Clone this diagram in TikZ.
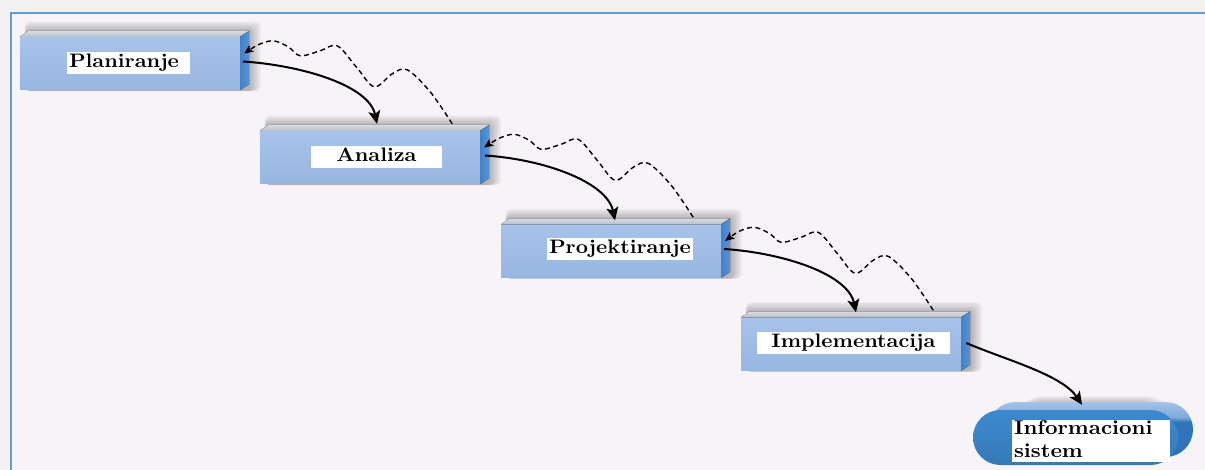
\documentclass[tikz,border=0pt]{standalone}
\usepackage{fontspec}
\setmainfont{Latin Modern Roman}
\newfontfamily\labelfont{lmroman10-bold.otf}[FakeStretch=1.09]
\usetikzlibrary{arrows.meta,calc,backgrounds,shapes.misc}

\definecolor{pagebg}{HTML}{F1F1F2}
\definecolor{panelbg}{HTML}{F7F4F7}
\definecolor{framebl}{HTML}{5F9CD6}
\definecolor{frontbl}{HTML}{97B6E1}
\definecolor{frontlt}{HTML}{A7C3EA}
\definecolor{sidebl}{HTML}{4381CA}
\definecolor{sidelt}{HTML}{5893D5}
\definecolor{topgray}{HTML}{B9BFCA}
\definecolor{toplt}{HTML}{DADCE2}
\definecolor{sysbl}{HTML}{3D8AD0}
\definecolor{sysdark}{HTML}{2F74BA}
\definecolor{systop}{HTML}{A3C3E8}
\definecolor{sysmid}{HTML}{7FA9DA}

% back of the rounded slab: light top rim, dark body
\pgfdeclareverticalshading{slabshade}{100bp}{color(0bp)=(sysdark); color(57bp)=(sysdark);
  color(61bp)=(sysmid); color(75bp)=(systop); color(100bp)=(systop)}

\tikzset{
  x=1pt, y=-1pt,
  front/.style={rectangle, minimum width=220pt, minimum height=53pt, inner sep=0pt,
    top color=frontlt, bottom color=frontbl, draw=none},
  lbl/.style={fill=white, inner ysep=2.5pt, inner xsep=2pt,
    font={\labelfont\fontsize{19.5}{23}\selectfont},
    text height=13pt, text depth=4pt},
  flow/.style={line width=2pt, -{Stealth[length=13pt,width=12pt,inset=3pt]}},
  feedback/.style={line width=1.4pt, dash pattern=on 5pt off 3.5pt,
    -{Stealth[length=9pt,width=8pt,inset=2pt]}},
  sysshape/.style={rounded rectangle, minimum width=205pt, minimum height=55pt,
    inner sep=0pt, draw=none},
}

% dashed wavy return path from the top of one stage back to the previous one
\newcommand\backwave[2]{%
  \begin{scope}[shift={(#1.north east)}]
    \draw[feedback] plot[smooth, tension=0.55] coordinates {
      (-28,-7) (-50,-39) (-73,-61) (-88,-57) (-106,-44) (-124,-64)
      (-143,-85) (-160,-80) (-180,-75) (-192,-84) (-207,-90) (-222,-86)
      ($(#2.east)+(4,-10)$)};
  \end{scope}}

\begin{document}
\begin{tikzpicture}
\useasboundingbox (0,0) rectangle (1205,470);

% stage blocks (front faces)
\node[front] (pl) at (130,63.5) {};
\node[front] (an) at (370,157.5) {};
\node[front] (pr) at (611,251) {};
\node[front] (im) at (851,344) {};

% top and side faces of each block
\foreach \n in {pl,an,pr,im}{
  \fill[top color=toplt, bottom color=topgray]
    (\n.north west) -- ++(9,-6) -- ($(\n.north east)+(9,-6)$) -- (\n.north east) -- cycle;
  \fill[left color=sidebl, right color=sidelt]
    (\n.north east) -- ++(9,-6) -- ($(\n.south east)+(9,-6)$) -- (\n.south east) -- cycle;
}

% final product: rounded slab
\coordinate (isc) at (1075.5,437.5);
\node[sysshape, shading=slabshade] (isback) at ($(isc)+(15,-8)$) {};
\node[sysshape, top color=sysbl, bottom color=sysbl!88!black] (is) at (isc) {};

% labels
\node[lbl, text width=119pt, align=left] (plt) at (128.5,63) {Planiranje};
\node[lbl, text width=127pt, align=center] (ant) at (376.5,157.5) {Analiza};
\node[lbl, text width=142pt, align=left] (prt) at (620,249) {Projektiranje};
\node[lbl, text width=189pt, align=center] (imt) at (853.5,343) {Implementacija};
\node[lbl, text width=154pt, align=left, font={\labelfont\fontsize{20}{23}\selectfont},
  text height=14pt, text depth=26pt, inner ysep=1pt] (ist) at (1091,440.5) {Informacioni\\sistem};

% forward flow
\draw[flow] ($(pl.east)+(3,-2)$) .. controls +(60,4) and +(-8,-38) .. ($(an.north)+(7,-7)$);
\draw[flow] ($(an.east)+(5,-2)$) .. controls +(60,4) and +(-8,-38) .. ($(pr.north)+(4,-4)$);
\draw[flow] ($(pr.east)+(3,-2)$) .. controls +(60,4) and +(-8,-38) .. ($(im.north)+(5,-5)$);
\draw[flow] ($(im.east)+(5,-1)$) .. controls +(40,17) and +(-20,-30) .. ($(is.north)+(6.5,-5)$);

% feedback to previous stage
\backwave{an}{pl}
\backwave{pr}{an}
\backwave{im}{pr}

\begin{scope}[on background layer]
  \fill[pagebg] (0,0) rectangle (1205,470);
  \fill[panelbg] (11,13) rectangle (1205,470);
  \draw[framebl, line width=2.5pt] (1205,13) -- (11,13) -- (11,470);
  \foreach \n in {pl,an,pr,im}{
    \foreach \s in {1,...,8}
      \fill[black, opacity=0.035, rounded corners=5pt]
        ($(\n.north west)+(5,-5-1.3*\s)$) rectangle ($(\n.south east)+(9+1.5*\s,1)$);
  }
  \foreach \s in {1,...,6}
    \fill[black, opacity=0.03, rounded corners=28pt]
      ($(isback.north west)+(0,-\s)$) rectangle ($(isback.south east)+(1.5*\s,2)$);
\end{scope}
\end{tikzpicture}
\end{document}
